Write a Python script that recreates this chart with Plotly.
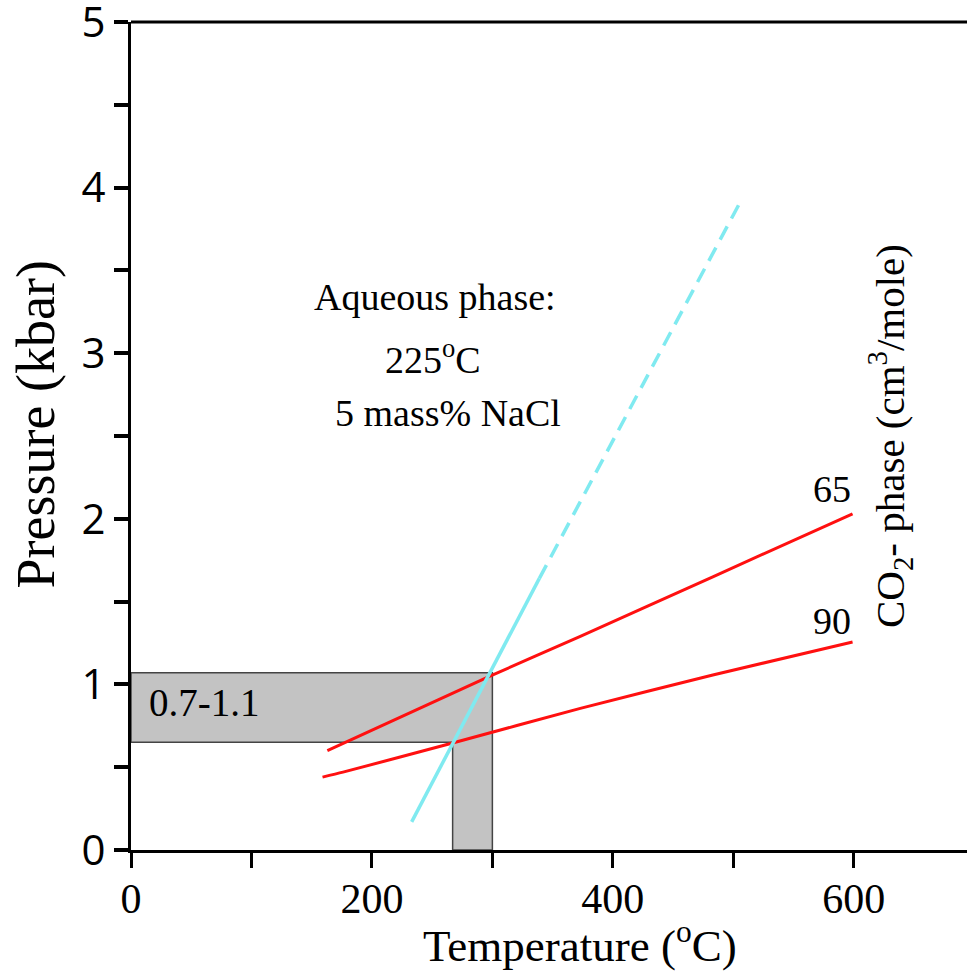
import plotly.graph_objects as go

# ---- data ----
# CO2-phase isochores (cm3/mole)
iso65_t = [163, 298, 373, 483, 599]
iso65_p = [0.60, 1.05, 1.29, 1.65, 2.03]
iso90_t = [159, 176, 267, 373, 483, 599]
iso90_p = [0.44, 0.47, 0.646, 0.855, 1.057, 1.256]

# aqueous phase isochore (solid part and dashed extrapolation)
aq_solid_t = [233, 339]
aq_solid_p = [0.17, 1.64]
aq_dash_t = [339, 507]
aq_dash_p = [1.64, 3.93]

# shaded P-T window
band_p = [0.65, 1.07]      # pressure range (kbar)
band_t = [267, 300]        # temperature range (deg C)

x_range = [0, 694]
y_range = [0, 5]
y_ticks = [0, 1, 2, 3, 4, 5]
y_minor = [0.5, 1.5, 2.5, 3.5, 4.5]
x_ticks = [0, 200, 400, 600]
x_minor = [100, 300, 500]

serif = "Liberation Serif"
sans = "Open Sans"

fig = go.Figure()

# shaded region (L-shaped polygon) built from band values
poly_x = [0, 0, band_t[1], band_t[1], band_t[0], band_t[0], 0]
poly_y = [band_p[0], band_p[1], band_p[1], 0, 0, band_p[0], band_p[0]]
fig.add_trace(go.Scatter(x=poly_x, y=poly_y, mode="lines", fill="toself",
                         fillcolor="#c3c3c3", line=dict(color="#444444", width=1.5),
                         hoverinfo="skip", showlegend=False))

for tx, py in [(iso65_t, iso65_p), (iso90_t, iso90_p)]:
    fig.add_trace(go.Scatter(x=tx, y=py, mode="lines",
                             line=dict(color="#ff1010", width=3, shape="spline", smoothing=0.6),
                             showlegend=False))

fig.add_trace(go.Scatter(x=aq_solid_t, y=aq_solid_p, mode="lines",
                         line=dict(color="#80eaf0", width=3.5), showlegend=False))
fig.add_trace(go.Scatter(x=aq_dash_t, y=aq_dash_p, mode="lines",
                         line=dict(color="#80eaf0", width=3.5, dash="15px,9px"),
                         showlegend=False))

# empty trace so the right-hand axis (carrying the CO2 label as its title) is drawn
fig.add_trace(go.Scatter(x=[], y=[], yaxis="y2", showlegend=False, hoverinfo="skip"))

# top frame line
fig.add_shape(type="line", xref="paper", x0=0, x1=1, yref="paper", y0=1, y1=1,
              line=dict(color="black", width=3))

ann_font = dict(family=serif, size=38, color="black")
fig.add_annotation(x=150, y=3.34, text="Aqueous phase:", xanchor="left",
                   showarrow=False, font=ann_font)
fig.add_annotation(x=209, y=2.98, text="225<sup>o</sup>C", xanchor="left",
                   showarrow=False, font=ann_font)
fig.add_annotation(x=168, y=2.64, text="5 mass% NaCl", xanchor="left",
                   showarrow=False, font=ann_font)
fig.add_annotation(x=13, y=0.89, text="0.7-1.1", xanchor="left",
                   showarrow=False, font=dict(family=serif, size=39, color="black"))
fig.add_annotation(x=599, y=2.18, text="65", xanchor="right",
                   showarrow=False, font=ann_font)
fig.add_annotation(x=599, y=1.38, text="90", xanchor="right",
                   showarrow=False, font=ann_font)

# axis titles
fig.add_annotation(x=373, xref="x", y=0, yref="paper", yshift=-92,
                   xanchor="center", yanchor="middle",
                   text="Temperature (<sup>o</sup>C)", showarrow=False,
                   font=dict(family=serif, size=45, color="black"))
fig.add_annotation(x=0, xref="paper", xshift=-95, y=2.57, yref="y",
                   xanchor="center", yanchor="middle",
                   text="Pressure (kbar)", textangle=-90, showarrow=False,
                   font=dict(family=serif, size=54, color="black"))

fig.update_xaxes(range=x_range, showgrid=False, zeroline=False,
                 showline=True, linewidth=3, linecolor="black",
                 tickmode="array", tickvals=x_ticks,
                 ticks="outside", ticklen=15, tickwidth=3, tickcolor="black",
                 ticklabelstandoff=-5, automargin=False,
                 minor=dict(tickmode="array", tickvals=x_minor, ticks="outside", ticklen=15,
                            tickwidth=3, tickcolor="black", showgrid=False),
                 tickfont=dict(family=serif, size=42, color="black"))
fig.update_yaxes(range=y_range, showgrid=False, zeroline=False,
                 showline=True, linewidth=3, linecolor="black",
                 tickmode="array", tickvals=y_ticks,
                 ticklabeloverflow="allow", automargin=False,
                 ticks="outside", ticklen=14, tickwidth=4, tickcolor="black",
                 minor=dict(tickmode="array", tickvals=y_minor, ticks="outside", ticklen=14,
                            tickwidth=4, tickcolor="black", showgrid=False),
                 tickfont=dict(family=sans, size=42, color="black"))

fig.update_layout(
    width=967, height=971,
    margin=dict(l=131, r=0, t=22, b=121, autoexpand=False),
    plot_bgcolor="white", paper_bgcolor="white",
    showlegend=False,
    yaxis2=dict(overlaying="y", side="right", anchor="free", position=0.89,
                range=[-0.9, 4.1], showgrid=False, zeroline=False, showline=False,
                ticks="", showticklabels=False, automargin=False,
                title=dict(text="CO<sub>2</sub>- phase (cm<sup>3</sup>/mole)",
                           standoff=0,
                           font=dict(family=serif, size=41, color="black"))),
)

fig.write_html("out.html")
